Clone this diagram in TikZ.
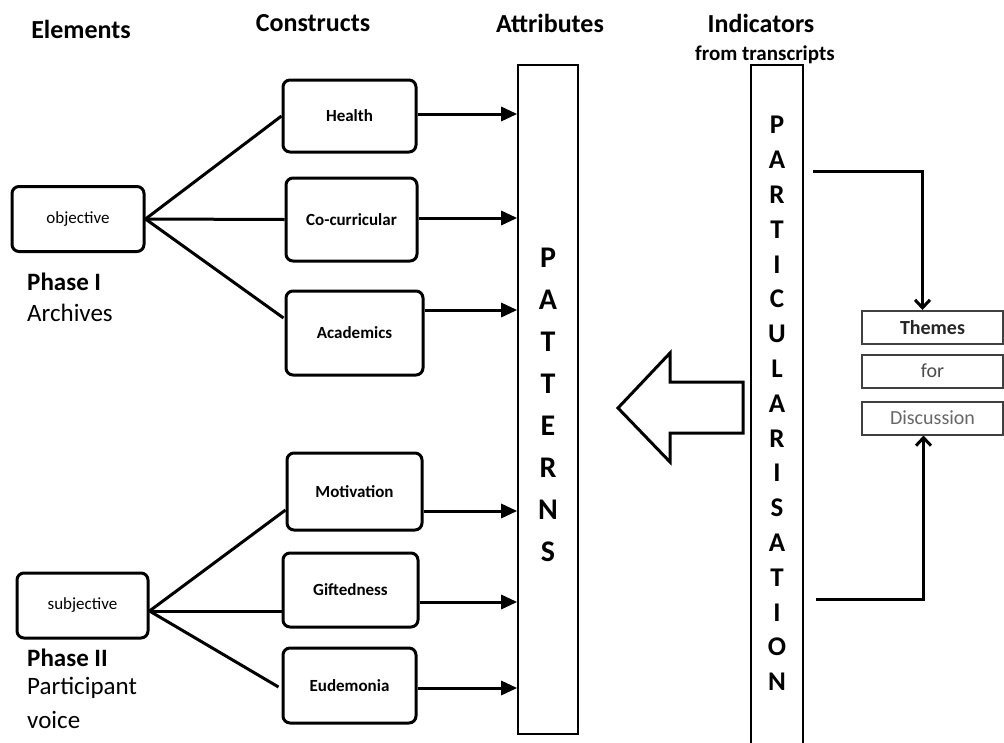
\documentclass[tikz,border=0pt]{standalone}
\usepackage{fontspec}
\setmainfont{Carlito}
\usetikzlibrary{arrows.meta,calc}
\newcommand\dgfs[2]{\fontsize{#1}{#2}\selectfont}
\begin{document}
\begin{tikzpicture}[x=1pt,y=-1pt,
  hdr/.style={font=\bfseries\dgfs{26}{30}, inner sep=0pt},
  subhdr/.style={font=\bfseries\dgfs{21}{24}, inner sep=0pt},
  phase/.style={font=\dgfs{25}{28}, inner sep=0pt, anchor=west},
  elem/.style={draw, line width=3pt, rounded corners=7pt, font=\dgfs{17}{20}, inner sep=0pt},
  cons/.style={elem, font=\bfseries\dgfs{17}{20}},
  link/.style={line width=3pt},
  feed/.style={line width=3pt, -{Triangle[length=16pt,width=14pt]}},
  column/.style={draw, line width=1.6pt, inner sep=0pt},
  stack/.style={align=center, inner sep=0pt},
  theme/.style={draw=black!75, line width=2pt, minimum width=141pt, minimum height=33pt, inner sep=0pt, font=\dgfs{20}{24}},
  barb/.style={line width=3pt, -{Straight Barb[length=8pt,width=15pt]}}
]
\useasboundingbox (0,0) rectangle (1004,742);
\clip (0,0) rectangle (1004,742);

% column headings
\node[hdr] (hElem) at (81,29) {Elements};
\node[hdr] (hCons) at (313,23) {Constructs};
\node[hdr] (hAttr) at (550,23) {Attributes};
\node[hdr] (hInd)  at (761,23) {Indicators};
\node[subhdr] (hFrom) at (765,55) {from transcripts};

% elements
\node[elem, minimum width=132pt, minimum height=65pt] (obj) at (78,219) {objective};
\node[elem, minimum width=131pt, minimum height=65pt] (subj) at (82.5,605.5) {subjective};

\node[phase, font=\bfseries\dgfs{25}{28}] (ph1) at (27,282) {Phase I};
\node[phase] (ph1b) at (27,313) {Archives};
\node[phase, font=\bfseries\dgfs{25}{28}] (ph2) at (27,658) {Phase II};
\node[phase] (ph2b) at (27,688) {Participant};
\node[phase] (ph2c) at (27,720) {voice};

% constructs
\node[cons, minimum width=133pt, minimum height=72pt] (hlth) at (349.5,116) {Health};
\node[cons, minimum width=131pt, minimum height=83pt] (cocu) at (351.5,219.5) {Co-curricular};
\node[cons, minimum width=137pt, minimum height=84pt] (acad) at (354.5,333) {Academics};
\node[cons, minimum width=135pt, minimum height=77pt] (moti) at (354.5,491.5) {Motivation};
\node[cons, minimum width=135pt, minimum height=74pt] (gift) at (350.5,590) {Giftedness};
\node[cons, minimum width=133pt, minimum height=75pt] (eude) at (349.5,685.5) {Eudemonia};

% attributes column
\node[column, minimum width=60pt, minimum height=669pt] (pat) at (548,399.5) {};
\node[stack, font=\bfseries\dgfs{30}{42}] (pattxt) at (548,405) {P\\A\\T\\T\\E\\R\\N\\S};

% indicators column (runs past the lower edge)
\node[column, minimum width=52pt, minimum height=700pt] (part) at (777,415) {};
\node[stack, font=\bfseries\dgfs{27}{34.8}] (parttxt) at (777,403.5)
  {P\\A\\R\\T\\I\\C\\U\\L\\A\\R\\I\\S\\A\\T\\I\\O\\N};

% themes
\node[theme, font=\bfseries\dgfs{20}{24}, text=black!85] (th) at (932.5,327.5) {Themes};
\node[theme, text=black!70] (thfor) at (932.5,371) {for};
\node[theme, text=black!60] (disc) at (932.5,418) {Discussion};

% element-to-construct links
\draw[link] (obj.east) -- (hlth.west);
\draw[link] (obj.east) -- (cocu.west);
\draw[link] (obj.east) -- ($(acad.west)+(-1,-15)$);
\coordinate (subjR) at ($(subj.east)+(0,5.5)$);
\draw[link] (subjR) -- ($(moti.west)+(0,18.5)$);
\draw[link] (subjR) -- ($(gift.west)+(0,21)$);
\draw[link] (subjR) -- ($(eude.west)+(-3,1.5)$);

% construct-to-attribute arrows
\coordinate (y1) at (0,114);
\coordinate (y2) at (0,218);
\coordinate (y3) at (0,310);
\coordinate (y4) at (0,511);
\coordinate (y5) at (0,602);
\coordinate (y6) at (0,688);
\draw[feed] (hlth.east |- y1) -- (pat.west |- y1);
\draw[feed] (cocu.east |- y2) -- (pat.west |- y2);
\draw[feed] (acad.east |- y3) -- (pat.west |- y3);
\draw[feed] (moti.east |- y4) -- (pat.west |- y4);
\draw[feed] (gift.east |- y5) -- (pat.west |- y5);
\draw[feed] (eude.east |- y6) -- (pat.west |- y6);

% block arrow from indicators towards patterns
\draw[line width=3pt, line join=miter, fill=white]
  (618,408) -- (670,353) -- (670,382) -- (743,382) -- (743,433)
  -- (670,433) -- (670,462) -- cycle;

% indicators to themes
\coordinate (pOut1) at (813,171);
\coordinate (pOut2) at (816,599);
\draw[barb] (pOut1) -| ($(th.north)+(-10,0)$);
\draw[barb] (pOut2) -| ($(disc.south)+(-9,0)$);
\end{tikzpicture}
\end{document}
